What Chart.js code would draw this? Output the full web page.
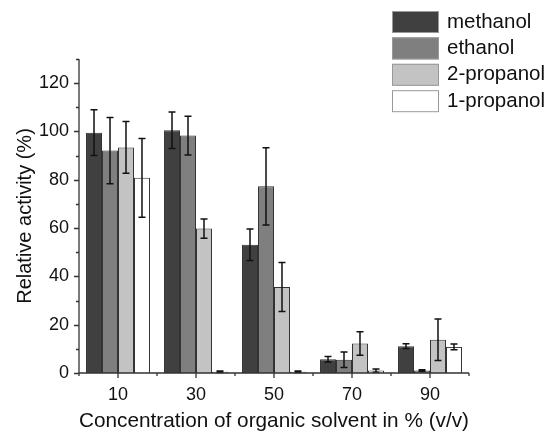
<!DOCTYPE html>
<html>
<head>
<meta charset="utf-8">
<script src="https://cdn.jsdelivr.net/npm/chart.js@4.4.1/dist/chart.umd.min.js"></script>
<style>
  html, body { margin: 0; padding: 0; background: #fff; }
  #wrap { width: 549px; height: 433px; }
</style>
</head>
<body>
<div id="wrap"><canvas id="solventChart"></canvas></div>
<script>
const concentrations = ["10", "30", "50", "70", "90"];
const methanol = [99.5, 100.5, 53.1, 5.7, 11.1];
const methanolErr = [9.5, 7.6, 6.5, 1.1, 1.0];
const ethanol = [92.1, 98.3, 77.3, 5.5, 1.0];
const ethanolErr = [13.7, 8.0, 16.0, 3.2, 0.3];
const propanol2 = [93.4, 59.8, 35.6, 12.2, 13.8];
const propanol2Err = [10.7, 4.0, 10.1, 4.9, 8.6];
const propanol1 = [80.8, 0.5, 0.5, 1.0, 10.8];
const propanol1Err = [16.3, 0.3, 0.3, 0.7, 1.2];
const yTicks = [0, 20, 40, 60, 80, 100, 120];

const FONT = "Liberation Sans, Arial, sans-serif";

const errorBars = {
  id: "errorBars",
  afterDatasetsDraw(chart) {
    const { ctx } = chart;
    const y = chart.scales.y;
    ctx.save();
    ctx.strokeStyle = "#111";
    ctx.lineWidth = 1.5;
    chart.data.datasets.forEach((ds, di) => {
      const meta = chart.getDatasetMeta(di);
      meta.data.forEach((bar, i) => {
        const v = ds.data[i], e = ds.errors[i];
        const top = y.getPixelForValue(v + e);
        const bot = y.getPixelForValue(Math.max(v - e, 0));
        const cx = bar.x;
        ctx.beginPath();
        ctx.moveTo(cx, top); ctx.lineTo(cx, bot);
        ctx.moveTo(cx - 3.5, top); ctx.lineTo(cx + 3.5, top);
        ctx.moveTo(cx - 3.5, bot); ctx.lineTo(cx + 3.5, bot);
        ctx.stroke();
      });
    });
    ctx.restore();
  }
};

const originAxes = {
  id: "originAxes",
  afterDraw(chart) {
    const { ctx, chartArea: a } = chart;
    const x = chart.scales.x, y = chart.scales.y;
    ctx.save();
    ctx.strokeStyle = "#333";
    ctx.lineWidth = 1.3;
    ctx.beginPath();
    ctx.moveTo(a.left, a.top); ctx.lineTo(a.left, a.bottom); ctx.lineTo(a.right, a.bottom);
    // y ticks
    for (let v = 0; v <= 130; v += 10) {
      const py = Math.round(y.getPixelForValue(v)) + 0.5;
      const len = v % 20 === 0 ? 5 : 3;
      ctx.moveTo(a.left, py); ctx.lineTo(a.left - len, py);
    }
    // x ticks: major at categories, minor at boundaries
    const step = (a.right - a.left) / concentrations.length;
    for (let i = 0; i <= concentrations.length; i++) {
      const px = a.left + i * step;
      ctx.moveTo(px, a.bottom); ctx.lineTo(px, a.bottom + 3);
    }
    concentrations.forEach((c, i) => {
      const px = x.getPixelForValue(i);
      ctx.moveTo(px, a.bottom); ctx.lineTo(px, a.bottom + 5);
    });
    ctx.stroke();
    ctx.restore();
  }
};

const boxLegend = {
  id: "boxLegend",
  afterDraw(chart) {
    const { ctx } = chart;
    ctx.save();
    ctx.font = "20.5px " + FONT;
    ctx.textBaseline = "middle";
    chart.data.datasets.forEach((ds, i) => {
      const top = 11 + i * 26.4;
      ctx.fillStyle = ds.backgroundColor;
      ctx.fillRect(392, top, 47, 22);
      ctx.strokeStyle = "#999";
      ctx.lineWidth = 1;
      ctx.strokeRect(392.5, top + 0.5, 46, 21);
      ctx.fillStyle = "#111";
      ctx.fillText(ds.label, 447, top + 11);
    });
    ctx.restore();
  }
};

const data = {
  labels: concentrations,
  datasets: [
    { label: "methanol", data: methanol, errors: methanolErr, backgroundColor: "#404040" },
    { label: "ethanol", data: ethanol, errors: ethanolErr, backgroundColor: "#7f7f7f" },
    { label: "2-propanol", data: propanol2, errors: propanol2Err, backgroundColor: "#c3c3c3" },
    { label: "1-propanol", data: propanol1, errors: propanol1Err, backgroundColor: "#ffffff" },
  ].map(d => Object.assign(d, {
    borderColor: "#333",
    borderWidth: 1,
    categoryPercentage: 0.82,
    barPercentage: 1.0,
  })),
};

const config = {
  type: "bar",
  data: data,
  options: {
    responsive: true,
    maintainAspectRatio: false,
    animation: false,
    devicePixelRatio: 1,
    layout: { padding: { top: 59, right: 80, left: 0, bottom: 0 } },
    plugins: { legend: { display: false }, tooltip: { enabled: false } },
    scales: {
      x: {
        grid: { display: false, drawTicks: false },
        border: { display: false },
        ticks: { color: "#111", font: { family: FONT, size: 18 }, padding: 11, maxRotation: 0 },
        title: {
          display: true,
          text: "Concentration of organic solvent in % (v/v)",
          color: "#111",
          font: { family: FONT, size: 21, lineHeight: 1.0 },
          padding: { top: 0, bottom: 1 },
        },
        afterFit(scale) { scale.height = 60; },
      },
      y: {
        min: 0,
        max: 130,
        afterBuildTicks(scale) { scale.ticks = yTicks.map(v => ({ value: v })); },
        grid: { display: false, drawTicks: false },
        border: { display: false },
        ticks: { color: "#111", font: { family: FONT, size: 18 }, padding: 10 },
        title: {
          display: true,
          text: "Relative activity (%)",
          color: "#111",
          font: { family: FONT, size: 20 },
          padding: { top: 13, bottom: 0 },
        },
        afterFit(scale) { scale.width = 79; },
      },
    },
  },
  plugins: [errorBars, originAxes, boxLegend],
};

const solventChart = new Chart(document.getElementById("solventChart"), config);
</script>
</body>
</html>
